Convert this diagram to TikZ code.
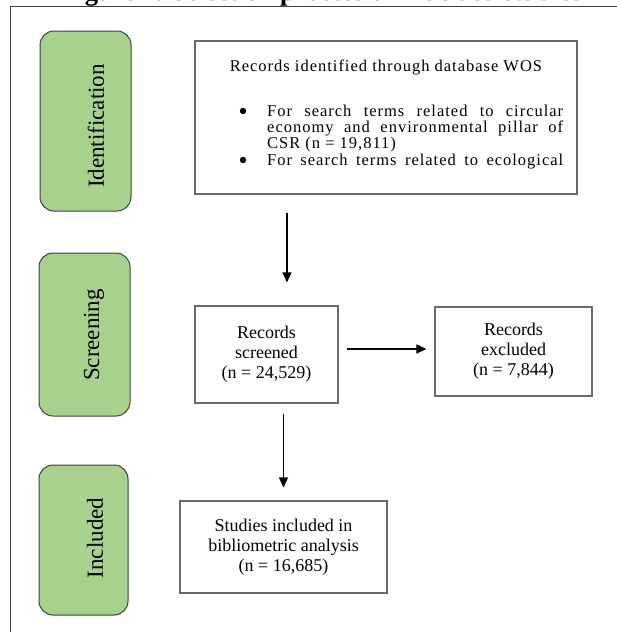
\documentclass[tikz,border=0pt]{standalone}
\usepackage{fontspec}
\setmainfont{Liberation Serif}
\usetikzlibrary{arrows.meta}
\definecolor{phasegreen}{RGB}{169,209,142}
\definecolor{phaseedge}{RGB}{64,64,64}
\definecolor{boxedge}{RGB}{105,105,105}
\tikzset{
  phase/.style={draw=phaseedge, fill=phasegreen, rounded corners=14pt, line width=1pt, inner sep=0pt},
  phaselab/.style={rotate=90, font=\fontsize{23}{26}\selectfont, inner sep=0pt},
  recbox/.style={draw=boxedge, fill=white, line width=1.1pt, inner sep=0pt, align=center, font=\fontsize{18}{20}\selectfont},
  txt/.style={font=\fontsize{16.5}{18}\selectfont\addfontfeatures{LetterSpace=6}, inner sep=0pt, anchor=base west, text height=11pt, text depth=3pt},
  arr/.style={-{Triangle[length=10pt,width=9pt]}, line width=1.4pt},
}
\begin{document}
\begin{tikzpicture}[x=1pt,y=-1pt]
\useasboundingbox (0,0) rectangle (617,632);
% clipped title
\begin{scope}
\clip (0,0) rectangle (617,632);
\node[anchor=base west, inner sep=0pt, font=\bfseries\fontsize{26.6}{30}\selectfont] (title) at (61,0) {Figure 1. Selection process of included studies};
\end{scope}
% outer frame
\draw[line width=1pt, black!75] (10,632) -- (10,6) -- (617,6);
% phase boxes
\node[phase, minimum width=91pt, minimum height=180pt] (pid) at (85.5,121) {};
\node[phaselab] (pidlab) at (96,126) {Identification};
\node[phase, minimum width=91pt, minimum height=163pt] (pscr) at (84.5,334.5) {};
\node[phaselab] (pscrlab) at (94,335) {Screening};
\node[phase, minimum width=89pt, minimum height=150pt] (pinc) at (83.5,540) {};
\node[phaselab] (pinclab) at (95,538) {Included};
% identification box
\node[recbox, minimum width=382pt, minimum height=153pt] (top) at (386,117.5) {};
\node[txt, anchor=base] (t0) at (386,71) {Records identified through database WOS};
\fill (243,111) circle (3.2pt);
\node[txt] (t1) at (267,116) {\makebox[296pt][s]{For search terms related to circular}};
\node[txt] (t2) at (267,132) {\makebox[296pt][s]{economy and environmental pillar of}};
\node[txt] (t3) at (267,148) {CSR (n = 19,811)};
\fill (243,160) circle (3.2pt);
\node[txt] (t4) at (267,165) {\makebox[296pt][s]{For search terms related to ecological}};
% other boxes
\node[recbox, minimum width=143pt, minimum height=97pt] (scr) at (266.5,354.5) {Records\\screened\\(n = 24,529)};
\node[recbox, minimum width=157pt, minimum height=89pt] (exc) at (513.5,351.5) {Records\\excluded\\(n = 7,844)};
\node[recbox, minimum width=207pt, minimum height=92pt] (stu) at (283.5,547) {Studies included in\\bibliometric analysis\\(n = 16,685)};
% connectors
\coordinate (c1) at (287,0);
\coordinate (c2) at (0,349);
\draw[arr, shorten <=18pt, shorten >=23pt] (top.south -| c1) -- (scr.north -| c1);
\draw[arr, shorten <=8pt, shorten >=8pt] (scr.east |- c2) -- (exc.west |- c2);
\draw[arr, shorten <=10pt, shorten >=13pt] (scr.south -| stu.north) -- (stu.north);
\end{tikzpicture}
\end{document}
